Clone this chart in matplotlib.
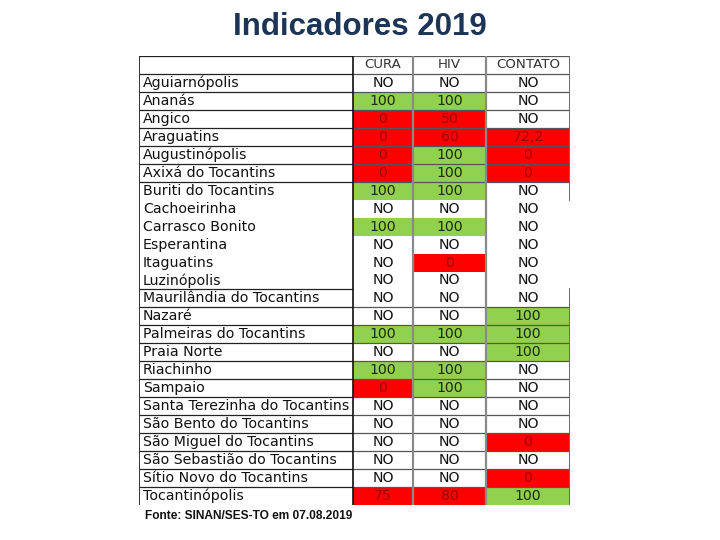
import matplotlib
matplotlib.use("Agg")
import matplotlib.pyplot as plt

# ---- data ----
municipios = [
    "Aguiarnópolis", "Ananás", "Angico", "Araguatins", "Augustinópolis",
    "Axixá do Tocantins", "Buriti do Tocantins", "Cachoeirinha", "Carrasco Bonito",
    "Esperantina", "Itaguatins", "Luzinópolis", "Maurilândia do Tocantins", "Nazaré",
    "Palmeiras do Tocantins", "Praia Norte", "Riachinho", "Sampaio",
    "Santa Terezinha do Tocantins", "São Bento do Tocantins", "São Miguel do Tocantins",
    "São Sebastião do Tocantins", "Sítio Novo do Tocantins", "Tocantinópolis",
]
colunas = ["CURA", "HIV", "CONTATO"]
cura = [None, 100, 0, 0, 0, 0, 100, None, 100, None, None, None, None, None,
        100, None, 100, 0, None, None, None, None, None, 75]
hiv = [None, 100, 50, 60, 100, 100, 100, None, 100, None, 0, None, None, None,
       100, None, 100, 100, None, None, None, None, None, 80]
contato = [None, None, None, 72.2, 0, 0, None, None, None, None, None, None, None, 100,
           100, 100, None, None, None, None, 0, None, 0, 100]
titulo = "Indicadores 2019"
fonte = "Fonte: SINAN/SES-TO em 07.08.2019"

# ---- style ----
W, H = 720, 540
fig = plt.figure(figsize=(W / 100, H / 100), dpi=100)
fig.patch.set_facecolor("white")

left_px, right_px, top_px, bottom_px = 139, 570, 56, 505
ax = fig.add_axes([left_px / W, (H - bottom_px) / H,
                   (right_px - left_px) / W, (bottom_px - top_px) / H])
col_edges = [0, 214, 274, 347, 431]
nrows = len(municipios) + 1
ax.set_xlim(col_edges[0], col_edges[-1])
ax.set_ylim(nrows, 0)
ax.axis("off")

GREEN = "#92D050"
RED = "#FF0000"
FONT = "DejaVu Sans"
FS = 10.2


def fmt(v):
    if v is None:
        return "NO"
    if float(v).is_integer():
        return str(int(v))
    return f"{v:.1f}".replace(".", ",")


def cell_color(v):
    if v is None:
        return "white"
    return GREEN if v == 100 else RED


def text_color(v):
    if v is None:
        return "#111111"
    return "#1d2a10" if v == 100 else "#a00000"


series = [cura, hiv, contato]
ypos = [i + 1 + 0.5 for i in range(len(municipios))]
for j, vals in enumerate(series):
    x0, x1 = col_edges[j + 1], col_edges[j + 2]
    ax.barh(ypos, [x1 - x0] * len(vals), left=x0, height=1.0,
            color=[cell_color(v) for v in vals], edgecolor="none", zorder=1)
    xc = (x0 + x1) / 2
    ax.text(xc, 0.5, colunas[j], ha="center", va="center", fontsize=FS - 0.6,
            family=FONT, color="#333333", zorder=4)
    for y, v in zip(ypos, vals):
        ax.text(xc, y, fmt(v), ha="center", va="center", fontsize=FS,
                family=FONT, color=text_color(v), zorder=4)

for y, name in zip(ypos, municipios):
    ax.text(4, y, name, ha="left", va="center", fontsize=FS, family=FONT,
            color="#111111", zorder=4)

# horizontal rules
for k in range(nrows):
    if 8 <= k <= 12:
        continue
    ax.plot([0, col_edges[1]], [k, k], color="#222222", lw=0.9, zorder=3,
            solid_capstyle="butt")
    if k == 13:
        continue
    ax.plot([col_edges[1], col_edges[-1]], [k, k], color="#555555", lw=0.9,
            zorder=3, solid_capstyle="butt")

# vertical rules
ax.plot([0, 0], [0, nrows], color="#111111", lw=1.2, zorder=3)
ax.plot([col_edges[1]] * 2, [0, nrows], color="#111111", lw=1.2, zorder=3)
ax.plot([col_edges[2]] * 2, [0, nrows], color="#8a8a8a", lw=1.6, zorder=3)
ax.plot([col_edges[3]] * 2, [0, nrows], color="#8a8a8a", lw=1.6, zorder=3)
ax.plot([col_edges[4]] * 2, [0, 8], color="#6a6a6a", lw=1.4, zorder=3)
ax.plot([col_edges[4]] * 2, [13, nrows], color="#6a6a6a", lw=1.4, zorder=3)

fig.text(360 / W, 1 - 27 / H, titulo, ha="center", va="center", fontsize=22.5,
         family="Liberation Sans", weight="bold", color="#1c3557")
fig.text(145 / W, 1 - 516 / H, fonte, ha="left", va="center", fontsize=8.6,
         family="Liberation Sans", weight="bold", color="#111111")

fig.savefig("out.png", dpi=100, facecolor="white")
